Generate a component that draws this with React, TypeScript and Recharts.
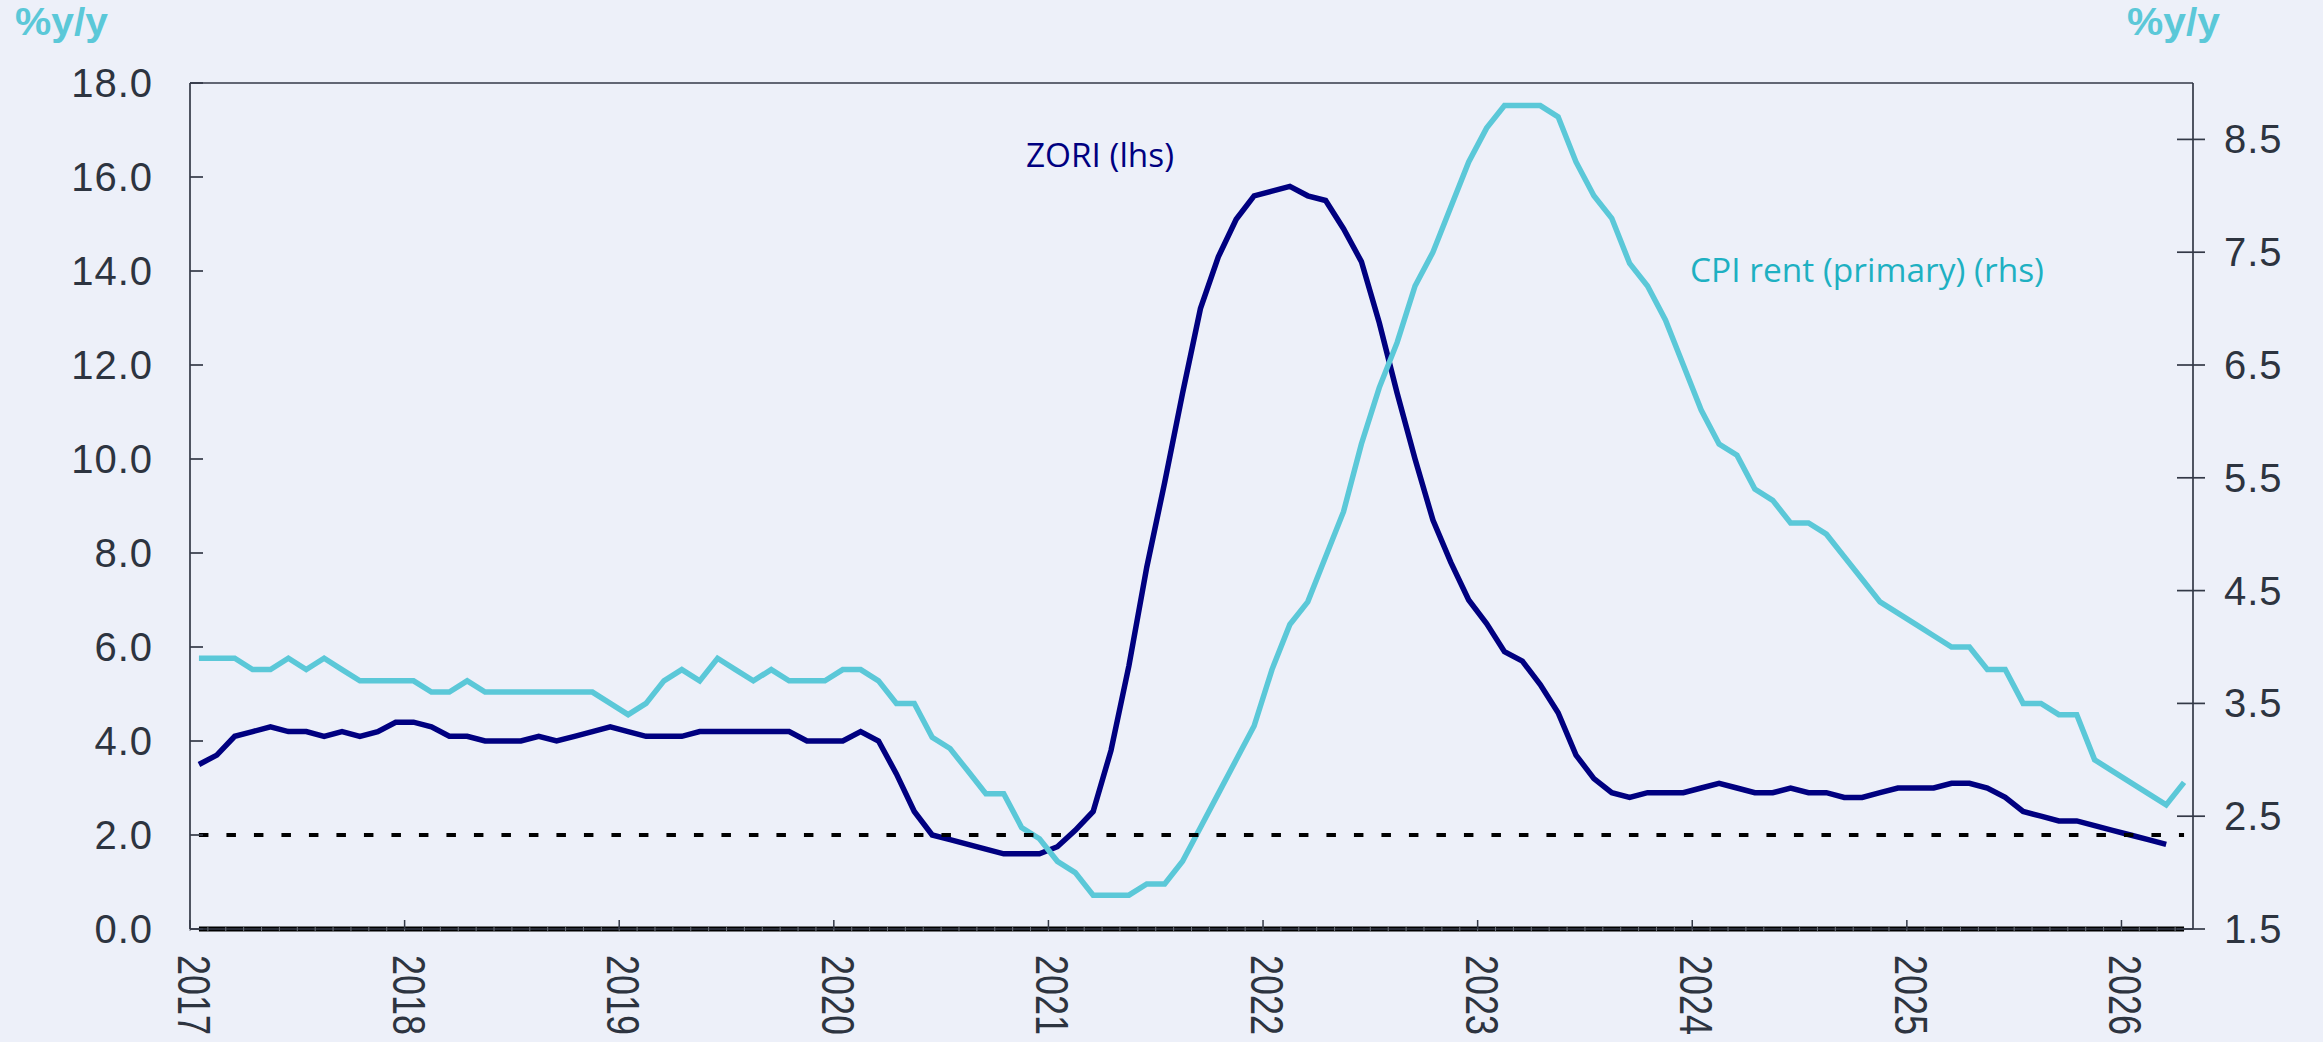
import React from 'react';
import { ComposedChart, Line, XAxis, YAxis, ReferenceLine } from 'recharts';

// monthly categories, Jan 2017 .. Apr 2026
const START_YEAR = 2017;
const months = Array.from({ length: 112 }, (_, i) =>
  `${START_YEAR + Math.floor(i / 12)}-${String((i % 12) + 1).padStart(2, '0')}`
);

// ZORI, %y/y (lhs) - ends Mar 2026
const zori = [
  3.5, 3.7, 4.1, 4.2, 4.3, 4.2, 4.2, 4.1, 4.2, 4.1, 4.2, 4.4,
  4.4, 4.3, 4.1, 4.1, 4.0, 4.0, 4.0, 4.1, 4.0, 4.1, 4.2, 4.3,
  4.2, 4.1, 4.1, 4.1, 4.2, 4.2, 4.2, 4.2, 4.2, 4.2, 4.0, 4.0,
  4.0, 4.2, 4.0, 3.3, 2.5, 2.0, 1.9, 1.8, 1.7, 1.6, 1.6, 1.6,
  1.75, 2.1, 2.5, 3.8, 5.6, 7.7, 9.5, 11.4, 13.2, 14.3, 15.1, 15.6,
  15.7, 15.8, 15.6, 15.5, 14.9, 14.2, 12.9, 11.4, 10.0, 8.7, 7.8, 7.0,
  6.5, 5.9, 5.7, 5.2, 4.6, 3.7, 3.2, 2.9, 2.8, 2.9, 2.9, 2.9,
  3.0, 3.1, 3.0, 2.9, 2.9, 3.0, 2.9, 2.9, 2.8, 2.8, 2.9, 3.0,
  3.0, 3.0, 3.1, 3.1, 3.0, 2.8, 2.5, 2.4, 2.3, 2.3, 2.2, 2.1,
  2.0, 1.9, 1.8,
];

// CPI rent of primary residence, %y/y (rhs) - ends Apr 2026
const cpiRent = [
  3.9, 3.9, 3.9, 3.8, 3.8, 3.9, 3.8, 3.9, 3.8, 3.7, 3.7, 3.7,
  3.7, 3.6, 3.6, 3.7, 3.6, 3.6, 3.6, 3.6, 3.6, 3.6, 3.6, 3.5,
  3.4, 3.5, 3.7, 3.8, 3.7, 3.9, 3.8, 3.7, 3.8, 3.7, 3.7, 3.7,
  3.8, 3.8, 3.7, 3.5, 3.5, 3.2, 3.1, 2.9, 2.7, 2.7, 2.4, 2.3,
  2.1, 2.0, 1.8, 1.8, 1.8, 1.9, 1.9, 2.1, 2.4, 2.7, 3.0, 3.3,
  3.8, 4.2, 4.4, 4.8, 5.2, 5.8, 6.3, 6.7, 7.2, 7.5, 7.9, 8.3,
  8.6, 8.8, 8.8, 8.8, 8.7, 8.3, 8.0, 7.8, 7.4, 7.2, 6.9, 6.5,
  6.1, 5.8, 5.7, 5.4, 5.3, 5.1, 5.1, 5.0, 4.8, 4.6, 4.4, 4.3,
  4.2, 4.1, 4.0, 4.0, 3.8, 3.8, 3.5, 3.5, 3.4, 3.4, 3.0, 2.9,
  2.8, 2.7, 2.6, 2.8,
];

const leftTicks = [0, 2, 4, 6, 8, 10, 12, 14, 16, 18];
const rightTicks = [1.5, 2.5, 3.5, 4.5, 5.5, 6.5, 7.5, 8.5];
const TARGET = 2.0;

const data = months.map((month, i) => ({ month, zori: zori[i], cpi: cpiRent[i] }));

const BG = '#edf0f9';
const NAVY = '#000080';
const CYAN = '#5bc8d8';
const TEAL = '#1eb0c2';
const AXIS = '#333947';
const TEXT = '#2d3440';

function MonthTick({ x, y, payload }: any) {
  const edge = x - (payload?.offset ?? 0);
  const value: string = String(payload.value);
  const isJan = value.endsWith('-01');
  const tx = edge - 12;
  const ty = y + 26;
  return (
    <g>
      <line x1={edge} x2={edge} y1={y - 2} y2={y + 2} stroke="#6b6f78" strokeWidth={1} />
      {isJan && (
        <>
          <line x1={edge} x2={edge} y1={y} y2={y - 9} stroke={AXIS} strokeWidth={1.5} />
          <text
            x={tx}
            y={ty}
            transform={`rotate(90 ${tx} ${ty})`}
            textAnchor="start"
            fontFamily="'Liberation Sans Narrow', 'Liberation Sans', Arial, sans-serif"
            fontSize={46}
            textLength={80}
            lengthAdjust="spacingAndGlyphs"
            fill={TEXT}
          >
            {value.slice(0, 4)}
          </text>
        </>
      )}
    </g>
  );
}

function LeftTick({ x, y, payload }: any) {
  return (
    <g>
      <line x1={x} x2={x + 13} y1={y} y2={y} stroke={AXIS} strokeWidth={1.7} />
      <text x={x - 37} y={y} dy={14} textAnchor="end" fontFamily="'Liberation Sans', Arial, sans-serif"
        fontSize={40} letterSpacing={1} fill={TEXT}>
        {Number(payload.value).toFixed(1)}
      </text>
    </g>
  );
}

function RightTick({ x, y, payload }: any) {
  return (
    <g>
      <line x1={x - 16} x2={x + 12} y1={y} y2={y} stroke={AXIS} strokeWidth={1.7} />
      <text x={x + 31} y={y} dy={14} textAnchor="start" fontFamily="'Liberation Sans', Arial, sans-serif"
        fontSize={40} letterSpacing={1} fill={TEXT}>
        {Number(payload.value).toFixed(1)}
      </text>
    </g>
  );
}

export default function App() {
  const first = months[0];
  const last = months[months.length - 1];
  return (
    <div style={{ position: 'absolute', left: 0, top: 0, width: 2323, height: 1042, background: BG }}>
      <ComposedChart width={2323} height={1042} data={data} margin={{ top: 83, right: 0, bottom: 0, left: 0 }}>
        <XAxis
          dataKey="month"
          scale="band"
          interval={0}
          height={113}
          tickSize={0}
          tickMargin={0}
          tickLine={false}
          axisLine={{ stroke: AXIS, strokeWidth: 1.7 }}
          tick={<MonthTick />}
        />
        <YAxis
          yAxisId="left"
          orientation="left"
          width={190}
          domain={[0, 18]}
          ticks={leftTicks}
          interval={0}
          tickSize={0}
          tickMargin={0}
          tickLine={false}
          axisLine={{ stroke: AXIS, strokeWidth: 1.7 }}
          tick={<LeftTick />}
        />
        <YAxis
          yAxisId="right"
          orientation="right"
          width={130}
          domain={[1.5, 9]}
          ticks={rightTicks}
          interval={0}
          tickSize={0}
          tickMargin={0}
          tickLine={false}
          axisLine={{ stroke: AXIS, strokeWidth: 1.7 }}
          tick={<RightTick />}
        />
        <ReferenceLine yAxisId="left" y={18} stroke={AXIS} strokeWidth={1.7} />
        <Line
          yAxisId="left"
          dataKey="zori"
          type="linear"
          stroke={NAVY}
          strokeWidth={5.5}
          dot={false}
          activeDot={false}
          isAnimationActive={false}
        />
        <Line
          yAxisId="right"
          dataKey="cpi"
          type="linear"
          stroke={CYAN}
          strokeWidth={5.5}
          dot={false}
          activeDot={false}
          isAnimationActive={false}
        />
        <ReferenceLine
          yAxisId="left"
          segment={[{ x: first, y: TARGET }, { x: last, y: TARGET }]}
          stroke="#000000"
          strokeWidth={4}
          strokeDasharray="9.5 18"
        />
        <ReferenceLine
          yAxisId="left"
          segment={[{ x: first, y: 0 }, { x: last, y: 0 }]}
          stroke="#000000"
          strokeWidth={5}
        />
      </ComposedChart>
      <svg width={2323} height={1042} style={{ position: 'absolute', left: 0, top: 0, pointerEvents: 'none' }}>
        <text x={15} y={35} fontFamily="'Liberation Sans', Arial, sans-serif" fontWeight="bold" fontSize={38}
          textLength={93} lengthAdjust="spacingAndGlyphs" fill={CYAN}>%y/y</text>
        <text x={2127} y={35} fontFamily="'Liberation Sans', Arial, sans-serif" fontWeight="bold" fontSize={38}
          textLength={93} lengthAdjust="spacingAndGlyphs" fill={CYAN}>%y/y</text>
        <text x={1026} y={167} fontFamily="'Open Sans', sans-serif" fontSize={32}
          textLength={148} lengthAdjust="spacingAndGlyphs" fill={NAVY}>ZORI (lhs)</text>
        <text x={1690} y={282} fontFamily="'Open Sans', sans-serif" fontSize={32}
          textLength={354} lengthAdjust="spacingAndGlyphs" fill={TEAL}>CPI rent (primary) (rhs)</text>
      </svg>
    </div>
  );
}
